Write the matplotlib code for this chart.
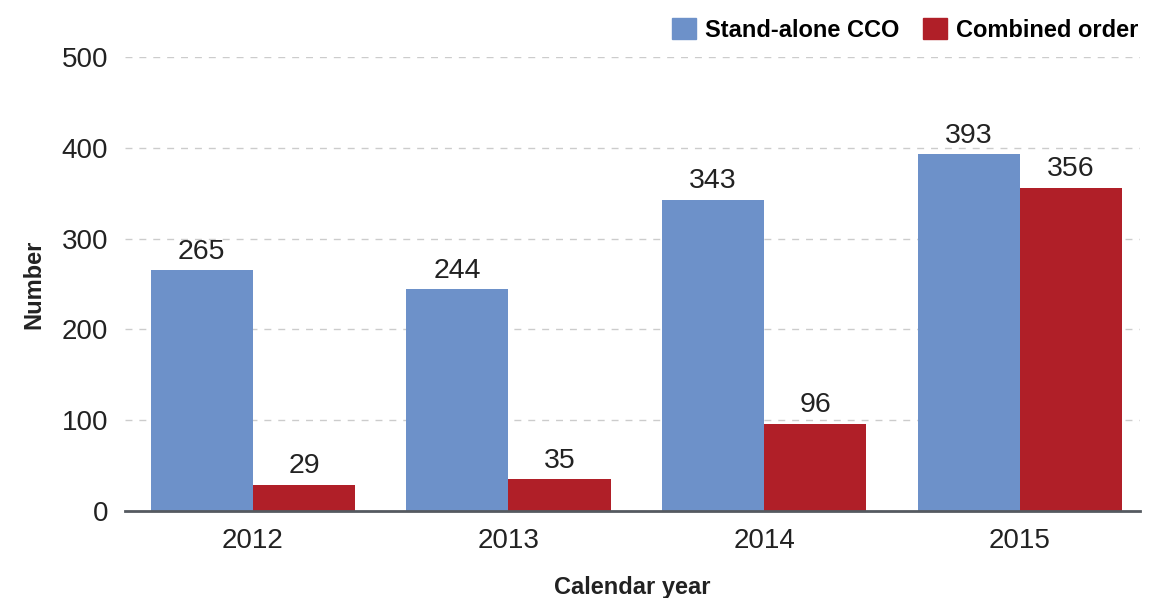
import numpy as np
import matplotlib
matplotlib.use('Agg')
import matplotlib.pyplot as plt
from matplotlib.patches import Patch

years = ['2012', '2013', '2014', '2015']
standalone = [265, 244, 343, 393]
combined = [29, 35, 96, 356]
series_names = ['Stand-alone CCO', 'Combined order']

blue = '#6d91c9'
red = '#b01f28'

plt.rcParams['font.family'] = ['Liberation Sans', 'DejaVu Sans']

fig = plt.figure(figsize=(11.55, 5.98), dpi=100)
ax = fig.add_axes([0.1082, 0.1455, 0.8788, 0.7592])

x = np.arange(len(years))
w = 0.4
b1 = ax.bar(x - w/2, standalone, w, color=blue)
b2 = ax.bar(x + w/2, combined, w, color=red)

for bars, vals in ((b1, standalone), (b2, combined)):
	for rect, v in zip(bars, vals):
		ax.annotate(str(v), (rect.get_x() + rect.get_width()/2, v),
			xytext=(0, 4), textcoords='offset points',
			ha='center', va='bottom', fontsize=20.5, color='#222222')

ax.set_ylim(0, 500)
ax.set_xlim(-0.5, 3.47)
ax.set_yticks(range(0, 501, 100))
ax.set_xticks(x)
ax.set_xticklabels(years)
ax.tick_params(axis='both', length=0, labelsize=20, colors='#222222')
ax.tick_params(axis='x', pad=12)
ax.tick_params(axis='y', pad=12)
ax.yaxis.grid(True, linestyle=(0, (5, 5)), color='#cccccc', linewidth=1)
ax.set_axisbelow(True)
for s in ('top', 'right', 'left'):
	ax.spines[s].set_visible(False)
ax.spines['bottom'].set_color('#555a60')
ax.spines['bottom'].set_linewidth(2)

ax.set_ylabel('Number', fontsize=17, fontweight='bold', color='#222222', labelpad=12)
ax.set_xlabel('Calendar year', fontsize=17, fontweight='bold', color='#222222', labelpad=16)

handles = [Patch(color=blue), Patch(color=red)]
fig.legend(handles, series_names, loc='upper right', bbox_to_anchor=(0.998, 0.993),
	ncol=2, frameon=False, prop={'weight': 'bold', 'size': 17},
	handlelength=1.0, handleheight=1.0, handletextpad=0.4, columnspacing=1.0,
	borderaxespad=0.2)

fig.savefig('out.png', dpi=100)
